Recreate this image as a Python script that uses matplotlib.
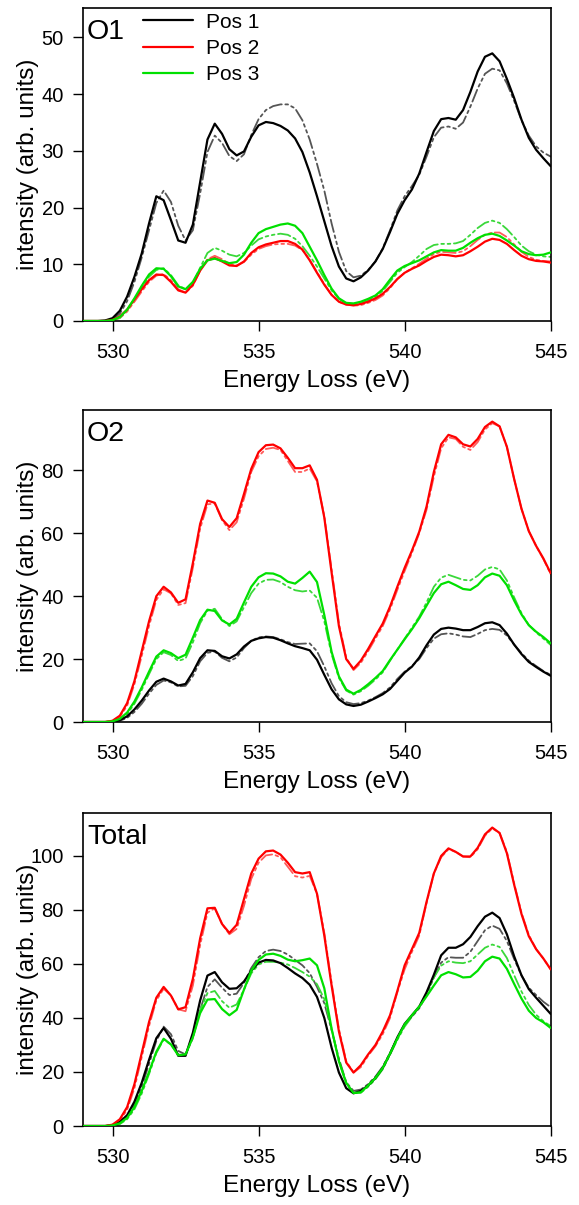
import numpy as np
import matplotlib
matplotlib.use("Agg")
import matplotlib.pyplot as plt

plt.rcParams['font.family'] = ['Liberation Sans', 'DejaVu Sans']

# Energy grid (eV)
energy = np.arange(529.0, 545.0 + 0.001, 0.25)

# ---------------- O1 ----------------
o1_pos1 = [0.0, 0.0, 0.0, 0.1, 0.5, 1.8, 4.3, 7.8, 11.9, 17.2, 22.0, 21.3, 17.8, 14.2, 13.8, 17.0,
           24.5, 32.0, 34.8, 33.0, 30.3, 29.2, 29.9, 32.5, 34.5, 35.1, 34.9, 34.4, 33.6, 32.2, 29.8, 26.2,
           22.0, 17.6, 13.2, 9.6, 7.5, 7.0, 7.7, 8.9, 10.5, 12.7, 15.7, 18.9, 21.3, 23.2, 26.0, 29.8,
           33.5, 35.6, 35.8, 35.5, 37.2, 40.4, 44.0, 46.6, 47.2, 45.8, 42.7, 39.3, 35.5, 32.3, 30.2, 28.7, 27.3]
o1_pos1_calc = [0.0, 0.0, 0.0, 0.05, 0.3, 1.3, 3.5, 6.9, 11.2, 16.0, 20.8, 23.0, 21.0, 16.8, 14.2, 16.0,
                22.5, 29.8, 32.7, 31.4, 29.1, 28.2, 29.4, 32.8, 35.6, 37.2, 37.9, 38.2, 38.2, 37.5, 35.4, 32.0,
                27.7, 23.0, 17.2, 12.2, 8.8, 7.7, 8.0, 9.0, 10.5, 12.8, 16.0, 19.5, 22.0, 23.8, 25.8, 29.0,
                32.4, 34.1, 34.3, 33.9, 35.0, 37.8, 41.0, 43.6, 44.5, 44.2, 41.9, 38.8, 35.4, 32.7, 30.8, 29.7, 29.0]
o1_pos2 = [0.0, 0.0, 0.0, 0.0, 0.2, 0.8, 2.0, 3.8, 5.6, 7.2, 8.2, 8.1, 6.9, 5.4, 5.0, 6.4,
           8.9, 10.7, 11.1, 10.5, 9.8, 9.7, 10.5, 12.0, 13.0, 13.5, 13.8, 14.1, 14.1, 13.6, 12.6, 10.7,
           8.5, 6.4, 4.6, 3.4, 2.9, 2.8, 3.0, 3.4, 4.0, 4.8, 6.0, 7.4, 8.5, 9.2, 9.8, 10.6,
           11.3, 11.7, 11.6, 11.4, 11.6, 12.3, 13.1, 14.0, 14.5, 14.3, 13.6, 12.5, 11.5, 10.9, 10.6, 10.5, 10.3]
o1_pos2_calc = [0.0, 0.0, 0.0, 0.0, 0.1, 0.6, 1.7, 3.4, 5.2, 6.9, 8.0, 8.3, 7.2, 5.6, 5.0, 6.2,
                8.9, 10.9, 11.5, 10.9, 10.1, 9.8, 10.4, 11.7, 12.7, 13.2, 13.5, 13.6, 13.6, 13.3, 12.5, 10.8,
                8.6, 6.5, 4.6, 3.4, 2.9, 2.7, 2.8, 3.2, 3.7, 4.5, 5.8, 7.4, 8.5, 9.3, 10.1, 11.0,
                11.8, 12.2, 12.1, 12.0, 12.3, 13.2, 14.3, 15.2, 15.6, 15.6, 14.8, 13.5, 12.2, 11.3, 10.8, 10.6, 10.5]
o1_pos3 = [0.0, 0.0, 0.0, 0.0, 0.15, 0.7, 2.0, 4.0, 6.2, 8.2, 9.3, 9.2, 7.9, 6.1, 5.6, 6.9,
           9.2, 10.7, 11.0, 10.6, 10.2, 10.4, 11.7, 13.8, 15.5, 16.2, 16.6, 17.0, 17.2, 16.8, 15.5, 13.1,
           10.7, 8.1, 5.7, 4.0, 3.2, 3.1, 3.4, 3.9, 4.5, 5.6, 7.3, 8.9, 9.7, 10.2, 10.7, 11.4,
           12.1, 12.5, 12.4, 12.4, 12.9, 13.8, 14.6, 15.2, 15.4, 15.0, 14.2, 13.3, 12.3, 11.8, 11.6, 11.7, 12.1]
o1_pos3_calc = [0.0, 0.0, 0.0, 0.0, 0.1, 0.5, 1.7, 3.6, 5.8, 7.8, 9.0, 9.3, 8.1, 6.3, 5.6, 6.7,
                9.4, 12.0, 12.9, 12.4, 11.7, 11.4, 12.0, 13.3, 14.4, 14.9, 15.2, 15.4, 15.2, 14.5, 13.2, 11.5,
                9.6, 7.5, 5.4, 3.9, 3.1, 2.9, 3.1, 3.6, 4.3, 5.3, 6.9, 8.5, 9.5, 10.4, 11.5, 12.7,
                13.4, 13.6, 13.6, 13.7, 14.1, 15.2, 16.4, 17.3, 17.7, 17.3, 16.2, 14.8, 13.3, 12.3, 11.7, 11.4, 11.3]

# ---------------- O2 ----------------
o2_pos1 = [0.0, 0.0, 0.0, 0.0, 0.1, 0.6, 1.8, 4.0, 6.8, 10.0, 12.8, 13.8, 12.9, 11.6, 12.1, 15.8,
           20.3, 22.8, 22.6, 20.9, 20.2, 21.5, 24.0, 25.8, 26.6, 27.0, 26.8, 26.0, 25.0, 24.1, 23.5, 22.8,
           19.8, 15.0, 10.4, 7.2, 5.6, 5.1, 5.5, 6.5, 7.6, 8.8, 10.5, 13.1, 15.7, 17.6, 20.5, 24.4,
           27.8, 29.6, 30.0, 29.7, 29.2, 29.2, 30.2, 31.4, 31.7, 30.8, 28.1, 24.6, 21.6, 19.1, 17.5, 16.0, 14.7]
o2_pos1_calc = [0.0, 0.0, 0.0, 0.0, 0.05, 0.4, 1.3, 3.2, 5.8, 9.0, 11.8, 13.2, 12.6, 11.3, 11.5, 14.6,
                19.3, 22.0, 22.4, 20.4, 19.3, 20.5, 23.5, 25.8, 26.9, 27.2, 27.0, 26.3, 25.4, 24.8, 24.9, 25.0,
                22.5, 17.7, 12.3, 8.2, 6.3, 5.7, 6.0, 6.8, 7.9, 9.2, 11.0, 13.7, 16.0, 17.8, 20.0, 23.5,
                26.5, 27.9, 28.2, 27.8, 27.2, 27.0, 28.0, 29.2, 29.6, 29.3, 27.5, 24.6, 21.9, 19.5, 17.8, 16.2, 15.0]
o2_pos2 = [0.0, 0.0, 0.0, 0.0, 0.4, 2.0, 6.0, 13.0, 22.5, 32.0, 40.0, 43.0, 41.2, 37.9, 39.0, 50.5,
           63.0, 70.4, 69.7, 64.5, 62.0, 64.8, 72.5, 80.5, 85.8, 88.0, 88.2, 87.0, 84.0, 80.7, 80.7, 81.6,
           77.0, 65.0, 47.5, 30.5, 20.0, 16.9, 19.5, 23.2, 27.3, 31.3, 36.7, 43.0, 49.0, 54.5, 60.5, 68.5,
           79.5, 88.3, 91.3, 90.5, 88.3, 87.6, 90.0, 93.8, 95.5, 94.0, 87.5, 77.2, 67.8, 60.7, 56.0, 52.0, 47.3]
o2_pos2_calc = [0.0, 0.0, 0.0, 0.0, 0.3, 1.6, 5.2, 12.0, 21.0, 30.5, 38.8, 42.2, 40.9, 37.2, 37.8, 49.0,
                61.5, 69.2, 69.5, 64.2, 61.0, 63.5, 71.0, 79.5, 84.5, 86.8, 87.2, 86.5, 83.0, 79.5, 79.5, 80.6,
                76.5, 65.5, 48.5, 31.5, 20.5, 16.5, 18.8, 22.5, 26.5, 30.5, 35.8, 42.0, 48.0, 53.8, 60.0, 67.5,
                78.0, 87.0, 90.5, 90.0, 87.5, 86.5, 89.0, 93.0, 95.0, 94.0, 87.5, 77.2, 67.8, 60.7, 56.0, 51.8, 47.0]
o2_pos3 = [0.0, 0.0, 0.0, 0.0, 0.2, 1.0, 3.0, 6.5, 11.0, 16.0, 20.8, 22.8, 21.9, 20.3, 21.4, 26.8,
           32.4, 35.7, 35.3, 32.3, 31.0, 32.8, 38.0, 43.0, 46.0, 47.3, 47.2, 46.3, 44.6, 44.0, 45.8, 47.8,
           44.5, 34.0, 22.3, 14.5, 10.3, 9.0, 10.2, 12.0, 14.0, 16.2, 19.7, 23.0, 26.3, 29.5, 33.0, 37.0,
           41.0, 43.8, 44.6, 43.5, 42.3, 42.0, 43.5, 46.0, 47.2, 46.5, 43.5, 38.6, 34.2, 30.8, 28.7, 27.0, 25.0]
o2_pos3_calc = [0.0, 0.0, 0.0, 0.0, 0.1, 0.7, 2.5, 5.8, 10.2, 15.2, 20.0, 22.2, 21.3, 19.4, 20.2, 25.3,
                31.4, 35.4, 36.0, 32.7, 30.5, 32.0, 36.5, 41.0, 44.0, 45.2, 45.3, 44.5, 43.0, 41.9, 41.5, 41.8,
                39.5, 32.0, 21.5, 14.0, 10.0, 8.7, 9.8, 11.5, 13.5, 15.8, 19.5, 23.0, 26.5, 30.0, 33.5, 38.0,
                43.0, 45.9, 46.8, 46.0, 45.2, 45.0, 46.5, 48.5, 49.3, 48.5, 45.0, 39.6, 34.6, 30.8, 28.5, 26.5, 24.5]

# ---------------- Total ----------------
tot_pos1 = [0.0, 0.0, 0.0, 0.0, 0.3, 1.5, 4.0, 9.0, 16.0, 24.5, 32.5, 36.3, 32.3, 26.0, 26.0, 34.5,
            46.5, 55.7, 57.0, 53.2, 50.8, 51.0, 53.5, 57.5, 60.5, 61.5, 61.3, 60.3, 58.5, 56.5, 54.8, 52.3,
            47.8, 40.0, 29.0, 19.8, 14.0, 12.1, 13.0, 15.0, 17.8, 21.5, 26.8, 32.8, 37.8, 41.0, 44.2, 49.5,
            56.0, 63.2, 66.0, 66.0, 67.3, 70.0, 74.0, 77.5, 79.0, 77.0, 71.0, 62.8, 55.8, 50.7, 47.5, 44.5, 41.5]
tot_pos1_calc = [0.0, 0.0, 0.0, 0.0, 0.2, 1.0, 3.2, 7.8, 14.5, 23.0, 31.5, 36.8, 34.0, 27.8, 26.5, 32.5,
                 43.0, 51.5, 54.3, 51.2, 48.5, 49.0, 53.0, 58.5, 62.5, 64.8, 65.3, 64.8, 63.5, 61.5, 59.5, 56.6,
                 51.5, 45.5, 35.5, 25.0, 16.2, 13.0, 13.5, 15.5, 18.3, 22.0, 27.0, 32.6, 37.4, 40.5, 43.6, 48.5,
                 55.0, 60.5, 62.5, 62.3, 62.3, 64.5, 68.5, 72.5, 74.2, 73.0, 68.5, 61.8, 55.8, 51.2, 48.5, 46.0, 44.0]
tot_pos2 = [0.0, 0.0, 0.0, 0.0, 0.5, 2.5, 7.0, 15.5, 27.0, 38.5, 47.5, 51.5, 48.3, 43.2, 44.0, 54.5,
            69.5, 80.6, 80.8, 74.8, 71.5, 74.5, 84.0, 93.5, 99.0, 101.7, 102.0, 100.5, 97.5, 94.0, 93.5, 94.0,
            86.0, 70.5, 52.0, 35.0, 23.5, 19.8, 22.5, 26.5, 30.0, 35.0, 41.0, 50.0, 59.5, 65.5, 71.5, 83.0,
            93.5, 100.0, 102.8, 101.5, 99.8, 99.8, 103.0, 108.0, 110.5, 108.5, 101.0, 89.3, 78.5, 70.3, 65.5, 62.0, 58.0]
tot_pos2_calc = [0.0, 0.0, 0.0, 0.0, 0.4, 2.0, 6.0, 14.0, 25.5, 37.0, 46.5, 50.8, 48.4, 43.2, 42.5, 52.0,
                 67.0, 79.0, 80.6, 74.8, 71.0, 73.0, 81.5, 91.5, 97.5, 100.2, 100.6, 99.5, 96.0, 92.5, 92.0, 92.6,
                 86.0, 71.5, 53.0, 36.0, 24.0, 19.8, 21.8, 26.0, 29.5, 34.0, 40.0, 49.5, 58.0, 64.5, 70.5, 82.5,
                 93.5, 99.5, 102.5, 101.5, 99.8, 99.5, 102.5, 107.5, 110.2, 108.5, 101.5, 89.8, 79.0, 70.8, 65.5, 62.0, 58.0]
tot_pos3 = [0.0, 0.0, 0.0, 0.0, 0.2, 1.0, 3.0, 7.0, 13.0, 20.0, 27.5, 32.3, 30.2, 26.2, 26.5, 32.8,
            41.8, 46.8, 47.0, 43.3, 41.0, 43.0, 50.5, 57.5, 61.5, 63.5, 63.8, 63.0, 61.6, 61.0, 61.4, 62.0,
            59.5, 51.0, 36.0, 24.0, 16.0, 12.2, 12.5, 15.0, 17.8, 21.5, 26.8, 32.4, 37.6, 41.0, 44.2, 48.0,
            52.0, 55.8, 57.0, 56.2, 55.0, 55.2, 57.5, 61.0, 62.7, 62.0, 58.2, 52.6, 47.2, 42.7, 40.0, 38.4, 36.3]
tot_pos3_calc = [0.0, 0.0, 0.0, 0.0, 0.1, 0.7, 2.5, 6.2, 12.0, 19.2, 27.0, 32.0, 30.2, 26.4, 26.5, 33.2,
                 42.8, 49.2, 50.0, 46.2, 43.8, 45.0, 50.5, 56.5, 59.8, 60.8, 60.8, 60.5, 59.8, 58.5, 57.0, 55.3,
                 52.5, 47.0, 36.0, 24.0, 15.6, 12.2, 12.3, 14.5, 17.3, 21.0, 26.4, 31.9, 36.8, 40.5, 44.0, 49.0,
                 55.0, 59.4, 61.0, 60.5, 60.3, 61.0, 63.5, 66.0, 67.2, 66.3, 62.2, 55.8, 49.8, 44.8, 41.2, 38.8, 37.0]

labels = ["Pos 1", "Pos 2", "Pos 3"]
panel_names = ["O1", "O2", "Total"]
ylims = [55.2, 99.2, 115.9]
yticks = [[0, 10, 20, 30, 40, 50], [0, 20, 40, 60, 80], [0, 20, 40, 60, 80, 100]]
xticks = [530, 535, 540, 545]

panels = [
    [(o1_pos1, o1_pos1_calc), (o1_pos2, o1_pos2_calc), (o1_pos3, o1_pos3_calc)],
    [(o2_pos1, o2_pos1_calc), (o2_pos2, o2_pos2_calc), (o2_pos3, o2_pos3_calc)],
    [(tot_pos1, tot_pos1_calc), (tot_pos2, tot_pos2_calc), (tot_pos3, tot_pos3_calc)],
]

solid_colors = ["#000000", "#ff0000", "#00e000"]
calc_colors = ["#555555", "#ff5a5a", "#3ad83a"]
calc_style = (0, (7, 2, 1.5, 2, 1.5, 2))

fig = plt.figure(figsize=(5.79, 12.05), dpi=100)
W, H = 579.0, 1205.0
left_px, right_px = 83.3, 550.7
tops = [8, 410, 813]
bottoms = [321, 722, 1126]

for k in range(3):
    ax = fig.add_axes([left_px / W, 1 - bottoms[k] / H, (right_px - left_px) / W,
                       (bottoms[k] - tops[k]) / H])
    for j in [0, 2, 1]:
        meas, calc = panels[k][j]
        ax.plot(energy, calc, color=calc_colors[j], lw=1.3, ls=calc_style, zorder=2,
                dash_joinstyle='round', dash_capstyle='round')
    lines = []
    for j in [0, 1, 2]:
        meas, calc = panels[k][j]
        ln, = ax.plot(energy, meas, color=solid_colors[j], lw=1.6, zorder=3, label=labels[j],
                      solid_joinstyle='round', solid_capstyle='round')
        lines.append(ln)
    ax.set_xlim(529, 545)
    ax.set_ylim(0, ylims[k])
    ax.set_xticks(xticks)
    ax.set_yticks(yticks[k])
    ax.tick_params(direction='out', length=7.5, width=1.0, labelsize=14.5,
                   top=False, right=False)
    ax.tick_params(axis='x', pad=8.5)
    ax.tick_params(axis='y', pad=6.5)
    for s in ax.spines.values():
        s.set_linewidth(1.2)
    ax.set_xlabel("Energy Loss (eV)", fontsize=17.5)
    ax.set_ylabel("intensity (arb. units)", fontsize=17.5)
    ax.yaxis.set_label_coords(-0.095, 0.5)
    ax.xaxis.set_label_coords(0.5, -0.158)
    ax.text(0.008, 0.965, panel_names[k], transform=ax.transAxes, fontsize=20.5,
            ha='left', va='top')
    if k == 0:
        ax.legend(handles=lines, loc='upper left', bbox_to_anchor=(0.128, 0.985),
                  frameon=False, fontsize=15, handlelength=2.4, handletextpad=0.6,
                  labelspacing=0.35, borderpad=0, borderaxespad=0)

fig.savefig("out.png", dpi=100)
